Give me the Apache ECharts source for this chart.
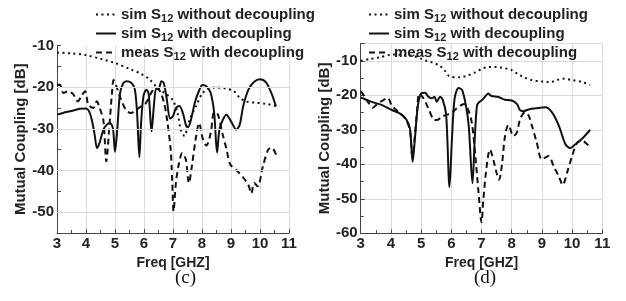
<!DOCTYPE html>
<html>
<head>
<meta charset="utf-8">
<script src="https://cdn.jsdelivr.net/npm/echarts@6/dist/echarts.min.js"></script>
<style>
  html, body { margin: 0; padding: 0; background: #fff; }
  #chart { width: 626px; height: 301px; }
</style>
</head>
<body>
<div id="chart"></div>
<script>
// legend names
const NAME_NO_DEC = 'sim S12 without decoupling'
const NAME_SIM_DEC = 'sim S12 with decoupling'
const NAME_MEAS_DEC = 'meas S12 with decoupling'
const xTicks = [3, 4, 5, 6, 7, 8, 9, 10, 11]
const yGridC = [-20, -30, -40, -50]

// (c) values, [freq GHz, dB]
const simNoDecC = [[3.0, -11.7], [3.5, -11.9], [4.0, -12.3], [4.5, -13.2], [5.0, -14.2], [5.5, -15.6], [5.9, -16.8], [6.2, -18.2], [6.5, -20.4], [6.8, -21.8], [7.0, -23.2], [7.15, -26], [7.28, -30.5], [7.4, -31.7], [7.5, -29.5], [7.6, -27.3], [7.8, -24.5], [8.0, -21.6], [8.2, -20.4], [8.5, -20.1], [8.8, -20.3], [9.1, -21], [9.3, -22.5], [9.5, -23.4], [9.8, -23.7], [10.2, -24], [10.6, -24.6]]
const simDecC = [[3.0, -26.6], [3.2, -26.2], [3.5, -25.7], [3.8, -25.2], [4.0, -25.1], [4.1, -25.7], [4.2, -27.8], [4.3, -31.5], [4.38, -34.6], [4.47, -33.3], [4.6, -30.2], [4.72, -29], [4.83, -28.6], [4.93, -30], [5.0, -35.5], [5.08, -30], [5.17, -21.6], [5.28, -19.1], [5.4, -18.6], [5.55, -18.9], [5.68, -20.4], [5.76, -26], [5.84, -36.8], [5.9, -28.6], [5.98, -22.2], [6.08, -20.6], [6.16, -21.6], [6.26, -30.6], [6.34, -24.6], [6.42, -20.3], [6.5, -20.5], [6.6, -18.6], [6.68, -19], [6.78, -22.6], [6.9, -27.5], [7.0, -27], [7.1, -25], [7.22, -24.5], [7.34, -26.2], [7.46, -29.4], [7.52, -29.6], [7.62, -27.8], [7.75, -23.8], [7.9, -20.8], [8.02, -19.5], [8.15, -19.8], [8.3, -21.4], [8.42, -26.2], [8.52, -35.7], [8.6, -30.2], [8.72, -27.8], [8.84, -26.6], [9.0, -28.2], [9.18, -30.2], [9.3, -29], [9.42, -24.6], [9.6, -20.6], [9.8, -18.7], [10.0, -18.1], [10.2, -18.8], [10.38, -21.2], [10.55, -24.6]]
const measDecC = [[3.0, -19.5], [3.1, -19.4], [3.22, -21.4], [3.38, -21], [3.55, -21.6], [3.72, -23.4], [3.85, -22], [3.97, -21], [4.08, -24.2], [4.25, -25], [4.37, -23.4], [4.47, -25], [4.6, -28], [4.7, -37.8], [4.8, -30], [4.9, -21], [4.95, -18.3], [5.05, -19.8], [5.2, -22.8], [5.38, -25.5], [5.55, -26.2], [5.72, -25.5], [5.9, -24.6], [6.05, -24], [6.2, -22], [6.32, -20.6], [6.44, -20.2], [6.58, -21.4], [6.7, -24], [6.8, -28], [6.92, -35], [6.97, -42], [7.02, -49.8], [7.1, -43], [7.2, -38.5], [7.32, -35.8], [7.44, -37.3], [7.55, -43], [7.65, -39], [7.78, -32.5], [7.9, -28.6], [8.03, -32.5], [8.15, -34], [8.3, -31], [8.42, -26], [8.55, -26.6], [8.7, -31], [8.85, -35], [8.97, -38.5], [9.2, -40], [9.4, -41.5], [9.6, -43.5], [9.7, -45.5], [9.8, -43], [9.92, -43.8], [10.1, -39], [10.28, -35], [10.4, -34.5], [10.6, -37]]

// (d) values
const simNoDecD = [[3.0, -10], [3.3, -9.5], [3.63, -9], [4.07, -8.2], [4.4, -8.3], [4.73, -8.6], [5.0, -9.4], [5.17, -10], [5.4, -10.6], [5.61, -11.4], [5.8, -13], [5.94, -14.5], [6.27, -14.8], [6.5, -14.4], [6.78, -13.4], [7.0, -12.4], [7.22, -11.8], [7.5, -11.8], [7.67, -12], [8.0, -12.7], [8.2, -13.8], [8.4, -14.8], [8.67, -15.6], [9.0, -16], [9.26, -16.2], [9.5, -15.6], [9.7, -15.2], [10.0, -15.6], [10.3, -16.1], [10.6, -17]]
const simDecD = [[3.0, -20.6], [3.1, -21], [3.36, -21.9], [3.69, -22.8], [4.02, -24.2], [4.36, -25.6], [4.52, -27.2], [4.63, -29.6], [4.72, -39.3], [4.8, -32], [4.89, -23.3], [5.0, -19.5], [5.13, -19.3], [5.24, -20.4], [5.36, -20.9], [5.44, -20.4], [5.52, -21.9], [5.63, -20.4], [5.72, -21.4], [5.83, -25.7], [5.94, -46.6], [6.02, -33], [6.11, -20.9], [6.24, -17.9], [6.36, -18.5], [6.49, -23.3], [6.58, -29.1], [6.7, -45.5], [6.78, -32], [6.85, -23], [6.92, -22], [7.0, -21.5], [7.11, -20.5], [7.22, -19.5], [7.33, -20.2], [7.56, -20.5], [7.78, -21.3], [8.0, -21.5], [8.17, -22.5], [8.28, -24.4], [8.39, -24.6], [8.56, -24.1], [8.89, -23.7], [9.11, -23.5], [9.33, -24.9], [9.56, -28.8], [9.78, -34.2], [9.94, -35.3], [10.11, -34.2], [10.33, -32.6], [10.6, -30]]
const measDecD = [[3.0, -18.8], [3.13, -20.4], [3.24, -21.9], [3.4, -23.6], [3.55, -22.5], [3.69, -21.7], [3.9, -20.8], [4.02, -22.8], [4.24, -24.8], [4.47, -26.7], [4.63, -30.1], [4.71, -37.8], [4.78, -33], [4.86, -25.3], [4.94, -19.5], [5.08, -20.9], [5.24, -23.8], [5.41, -27], [5.52, -27.2], [5.69, -26.2], [5.86, -25.6], [6.0, -25.3], [6.15, -24], [6.3, -23], [6.42, -22.5], [6.55, -24], [6.68, -28], [6.8, -38], [6.9, -48], [7.0, -56.8], [7.06, -50.4], [7.17, -40.6], [7.28, -35.7], [7.39, -38.6], [7.5, -42.5], [7.58, -44.5], [7.67, -40.6], [7.78, -31.8], [7.89, -28.6], [8.06, -31.8], [8.17, -30.8], [8.28, -26.9], [8.44, -24.9], [8.56, -25.9], [8.67, -28.8], [8.83, -33.7], [9.0, -38.6], [9.22, -37.6], [9.39, -40.6], [9.56, -43.5], [9.69, -46], [9.83, -42.5], [10.0, -37.6], [10.17, -33.7], [10.33, -33.2], [10.5, -34.2], [10.6, -35.2]]

const FONT = '"Liberation Sans", Arial, sans-serif'
const INK = '#111'
const GRID_GREY = '#dcdcdc'
const chart = echarts.init(document.getElementById('chart'))

// axis look shared by both panels
function xAxisOf(gridIndex) {
  return {
    type: 'value',
    gridIndex: gridIndex,
    min: xTicks[0],
    max: xTicks[xTicks.length - 1],
    interval: 1,
    name: 'Freq [GHZ]',
    nameLocation: 'middle',
    nameGap: 17,
    nameTextStyle: { fontFamily: FONT, fontWeight: 'bold', fontSize: 14, color: '#222' },
    axisLine: { lineStyle: { color: '#444', width: 1 } },
    axisTick: { inside: true, length: 4, lineStyle: { color: '#444' } },
    minorTick: { show: true, splitNumber: 2, length: 3, lineStyle: { color: '#444' } },
    axisLabel: { fontFamily: FONT, fontWeight: 'bold', fontSize: 15, color: '#222', margin: 3 },
    splitLine: { show: true, lineStyle: { color: GRID_GREY, width: 1 } }
  }
}
// left panel starts at -55, so it steps by 5 and only labels the tens
function yAxisOf(gridIndex, min, max, step, gap, grid) {
  return {
    type: 'value',
    gridIndex: gridIndex,
    min: min,
    max: max,
    interval: step,
    name: 'Mutual Coupling [dB]',
    nameLocation: 'middle',
    nameGap: gap,
    nameTextStyle: { fontFamily: FONT, fontWeight: 'bold', fontSize: 15, color: '#222' },
    axisLine: { show: true, lineStyle: { color: '#444', width: 1 } },
    axisTick: { show: true, inside: true, length: 4, lineStyle: { color: '#444' } },
    minorTick: { show: step === 10, splitNumber: 2, length: 3, lineStyle: { color: '#444' } },
    axisLabel: {
      fontFamily: FONT, fontWeight: 'bold', fontSize: 15, color: '#222', margin: 3,
      formatter: function (v) { return v % 10 === 0 ? String(v) : '' }
    },
    splitLine: { show: grid, lineStyle: { color: GRID_GREY, width: 1 } }
  }
}
function lineOf(name, data, idx, type) {
  return {
    name: name,
    type: 'line',
    xAxisIndex: idx,
    yAxisIndex: idx,
    data: data,
    showSymbol: false,
    symbol: 'none',
    smooth: 0.3,
    color: INK,
    lineStyle: { color: INK, width: 2, type: type },
    emphasis: { disabled: true },
    z: type === 'solid' ? 3 : 2
  }
}
function legendOf(left) {
  return {
    orient: 'vertical',
    left: left,
    top: 2,
    itemWidth: 20,
    itemHeight: 14,
    itemGap: 2,
    // keep the line sample, hide the marker the line series adds in the middle
    itemStyle: { opacity: 0 },
    data: [NAME_NO_DEC, NAME_SIM_DEC, NAME_MEAS_DEC],
    formatter: function (name) {
      const parts = name.split('S12')
      return '{t|' + parts[0] + 'S}{sub|12}{t|' + parts[1] + '}'
    },
    textStyle: {
      rich: {
        t: { fontFamily: FONT, fontWeight: 'bold', fontSize: 15, color: '#222', lineHeight: 19 },
        sub: { fontFamily: FONT, fontWeight: 'bold', fontSize: 11, color: '#222', lineHeight: 11, verticalAlign: 'bottom' }
      }
    }
  }
}

const dotted = [2, 3.5]
const dashed = [6, 4]

chart.setOption({
  animation: false,
  backgroundColor: '#fff',
  legend: [legendOf(90), legendOf(363)],
  grid: [
    { left: 57, top: 45.5, width: 232, height: 187.5 },
    { left: 360.7, top: 43.5, width: 241.6, height: 189.8 }
  ],
  xAxis: [xAxisOf(0), xAxisOf(1)],
  yAxis: [yAxisOf(0, -55, -10, 5, 24, false), yAxisOf(1, -60, -5, 10, 26, true)],
  graphic: [
    { type: 'text', left: 175, top: 269, style: { text: '(c)', font: '19px "Liberation Serif", "Times New Roman", serif', fill: INK } },
    { type: 'text', left: 474, top: 269, style: { text: '(d)', font: '19px "Liberation Serif", "Times New Roman", serif', fill: INK } }
  ],
  series: [
    {
      // horizontal grid of panel (c), only at the tens
      type: 'line',
      xAxisIndex: 0,
      yAxisIndex: 0,
      data: [],
      silent: true,
      z: 1,
      markLine: {
        silent: true,
        symbol: ['none', 'none'],
        label: { show: false },
        lineStyle: { color: GRID_GREY, width: 1, type: 'solid' },
        data: yGridC.map(function (v) { return { yAxis: v } })
      }
    },
    lineOf(NAME_NO_DEC, simNoDecC, 0, dotted),
    lineOf(NAME_SIM_DEC, simDecC, 0, 'solid'),
    lineOf(NAME_MEAS_DEC, measDecC, 0, dashed),
    lineOf(NAME_NO_DEC, simNoDecD, 1, dotted),
    lineOf(NAME_SIM_DEC, simDecD, 1, 'solid'),
    lineOf(NAME_MEAS_DEC, measDecD, 1, dashed)
  ]
})
</script>
</body>
</html>
